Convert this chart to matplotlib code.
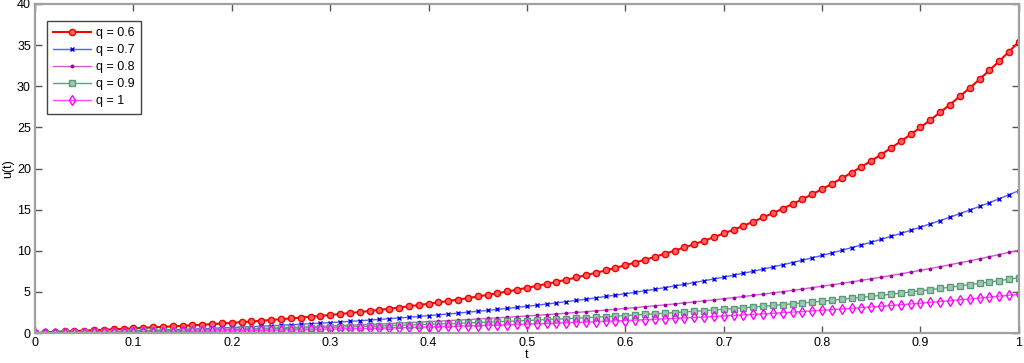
import numpy as np
import matplotlib.pyplot as plt

# sample times, step 0.01
t = np.round(np.arange(101) / 100, 2)

# u(t), one list per q
u_q06 = [0.00, 0.08, 0.14, 0.19, 0.24, 0.30, 0.35, 0.40, 0.46, 0.51, 0.57, 0.63, 0.69, 0.75, 0.81, 0.88, 0.94,
         1.01, 1.09, 1.16, 1.24, 1.32, 1.41, 1.49, 1.58, 1.68, 1.77, 1.87, 1.98, 2.08, 2.19, 2.31, 2.43, 2.55,
         2.68, 2.82, 2.95, 3.10, 3.24, 3.40, 3.56, 3.72, 3.89, 4.07, 4.25, 4.44, 4.64, 4.84, 5.05, 5.27, 5.50,
         5.73, 5.97, 6.22, 6.48, 6.75, 7.03, 7.32, 7.61, 7.92, 8.24, 8.57, 8.91, 9.26, 9.63, 10.01, 10.40, 10.80,
         11.22, 11.65, 12.10, 12.56, 13.04, 13.53, 14.05, 14.57, 15.12, 15.68, 16.27, 16.87, 17.50, 18.14, 18.81,
         19.50, 20.21, 20.94, 21.70, 22.49, 23.30, 24.14, 25.01, 25.90, 26.83, 27.78, 28.77, 29.79, 30.84, 31.93,
         33.05, 34.21, 35.41]
u_q07 = [0.00, 0.01, 0.03, 0.06, 0.08, 0.10, 0.13, 0.16, 0.19, 0.22, 0.25, 0.29, 0.32, 0.36, 0.40, 0.44, 0.48,
         0.52, 0.57, 0.62, 0.67, 0.72, 0.77, 0.83, 0.88, 0.94, 1.00, 1.07, 1.13, 1.20, 1.27, 1.34, 1.42, 1.49,
         1.57, 1.66, 1.74, 1.83, 1.92, 2.01, 2.11, 2.21, 2.31, 2.42, 2.53, 2.64, 2.75, 2.87, 2.99, 3.12, 3.25,
         3.38, 3.52, 3.66, 3.81, 3.96, 4.11, 4.27, 4.44, 4.60, 4.78, 4.95, 5.14, 5.32, 5.52, 5.72, 5.92, 6.13,
         6.35, 6.57, 6.79, 7.03, 7.27, 7.51, 7.77, 8.03, 8.30, 8.57, 8.85, 9.14, 9.44, 9.74, 10.05, 10.38, 10.71,
         11.04, 11.39, 11.75, 12.11, 12.49, 12.87, 13.27, 13.67, 14.08, 14.51, 14.95, 15.39, 15.85, 16.32, 16.81,
         17.30]
u_q08 = [0.00, 0.01, 0.03, 0.04, 0.06, 0.08, 0.10, 0.12, 0.14, 0.16, 0.18, 0.21, 0.23, 0.26, 0.28, 0.31, 0.34,
         0.37, 0.40, 0.43, 0.46, 0.50, 0.53, 0.57, 0.60, 0.64, 0.68, 0.72, 0.76, 0.81, 0.85, 0.90, 0.95, 0.99,
         1.04, 1.10, 1.15, 1.20, 1.26, 1.32, 1.38, 1.44, 1.50, 1.57, 1.63, 1.70, 1.77, 1.84, 1.92, 2.00, 2.07,
         2.15, 2.24, 2.32, 2.41, 2.50, 2.59, 2.69, 2.78, 2.88, 2.99, 3.09, 3.20, 3.31, 3.42, 3.54, 3.66, 3.78,
         3.91, 4.03, 4.17, 4.30, 4.44, 4.58, 4.73, 4.88, 5.03, 5.19, 5.35, 5.52, 5.69, 5.86, 6.04, 6.22, 6.40,
         6.60, 6.79, 6.99, 7.20, 7.41, 7.62, 7.84, 8.07, 8.30, 8.54, 8.78, 9.03, 9.28, 9.54, 9.81, 10.08]
u_q09 = [0.00, 0.03, 0.05, 0.07, 0.09, 0.10, 0.12, 0.14, 0.16, 0.18, 0.20, 0.22, 0.24, 0.26, 0.28, 0.30, 0.32,
         0.35, 0.37, 0.39, 0.42, 0.44, 0.47, 0.49, 0.52, 0.55, 0.58, 0.60, 0.63, 0.66, 0.69, 0.73, 0.76, 0.79,
         0.83, 0.86, 0.90, 0.94, 0.97, 1.01, 1.05, 1.10, 1.14, 1.18, 1.23, 1.27, 1.32, 1.37, 1.42, 1.47, 1.52,
         1.57, 1.63, 1.68, 1.74, 1.80, 1.86, 1.92, 1.99, 2.05, 2.12, 2.19, 2.26, 2.33, 2.40, 2.48, 2.56, 2.64,
         2.72, 2.80, 2.89, 2.97, 3.06, 3.16, 3.25, 3.35, 3.45, 3.55, 3.65, 3.76, 3.87, 3.98, 4.10, 4.22, 4.34,
         4.46, 4.59, 4.72, 4.85, 4.99, 5.13, 5.27, 5.42, 5.57, 5.72, 5.88, 6.04, 6.20, 6.37, 6.54, 6.72]
u_q10 = [0.00, 0.01, 0.02, 0.03, 0.04, 0.05, 0.07, 0.08, 0.09, 0.10, 0.12, 0.13, 0.14, 0.16, 0.17, 0.19, 0.21,
         0.22, 0.24, 0.26, 0.27, 0.29, 0.31, 0.33, 0.35, 0.37, 0.39, 0.41, 0.43, 0.45, 0.48, 0.50, 0.53, 0.55,
         0.58, 0.60, 0.63, 0.66, 0.68, 0.71, 0.74, 0.77, 0.81, 0.84, 0.87, 0.90, 0.94, 0.97, 1.01, 1.05, 1.09,
         1.12, 1.16, 1.21, 1.25, 1.29, 1.33, 1.38, 1.43, 1.47, 1.52, 1.57, 1.62, 1.67, 1.73, 1.78, 1.84, 1.89,
         1.95, 2.01, 2.07, 2.13, 2.20, 2.26, 2.33, 2.40, 2.47, 2.54, 2.61, 2.69, 2.76, 2.84, 2.92, 3.00, 3.09,
         3.17, 3.26, 3.35, 3.44, 3.54, 3.63, 3.73, 3.83, 3.93, 4.04, 4.14, 4.25, 4.36, 4.48, 4.59, 4.71]

x_ticks = [0, 0.1, 0.2, 0.3, 0.4, 0.5, 0.6, 0.7, 0.8, 0.9, 1]
x_labels = ['0', '0.1', '0.2', '0.3', '0.4', '0.5', '0.6', '0.7', '0.8', '0.9', '1']
y_ticks = [0, 5, 10, 15, 20, 25, 30, 35, 40]

plt.rcParams['font.family'] = ['Liberation Sans', 'DejaVu Sans']
fig = plt.figure(figsize=(10.24, 3.63), dpi=100)
ax = fig.add_axes([0.0342, 0.0826, 0.9608, 0.9064])

ax.plot(t, u_q06, color='#ff0000', lw=1.5, marker='o', ms=4.5, mfc='#ff6060', mec='#ee0000', mew=1, label='q = 0.6')
ax.plot(t, u_q07, color='#5a5aff', lw=1, marker='x', ms=3.5, mec='#0000ee', mew=1, label='q = 0.7')
ax.plot(t, u_q08, color='#d258d2', lw=1, marker='.', ms=3.5, mfc='#a000a0', mec='#a000a0', label='q = 0.8')
ax.plot(t, u_q09, color='#60a080', lw=1, marker='s', ms=3.7, mfc='#a0c8b0', mec='#5a9a7a', mew=1, label='q = 0.9')
ax.plot(t, u_q10, color='#ff48ff', lw=1, marker='d', ms=5, mfc='none', mec='#ff00ff', mew=1, label='q = 1')

ax.set_xlim(0, 1)
ax.set_ylim(0, 40)
ax.set_xticks(x_ticks)
ax.set_xticklabels(x_labels)
ax.set_yticks(y_ticks)
ax.tick_params(direction='in', length=5, width=1, color='#555555', labelsize=9, top=True, right=True, pad=3)
for s in ax.spines.values():
    s.set_color('#a0a0a0')
    s.set_linewidth(1.6)
ax.set_xlabel('t', fontsize=9, labelpad=0)
ax.set_ylabel('u(t)', fontsize=9, labelpad=2)
ax.legend(loc='upper left', bbox_to_anchor=(0.0122, 0.948), fontsize=9, fancybox=False,
          edgecolor='#444444', framealpha=1, handlelength=3.0, handletextpad=0.4,
          borderaxespad=0, labelspacing=0.4, borderpad=0.5)

fig.savefig('out.png')
